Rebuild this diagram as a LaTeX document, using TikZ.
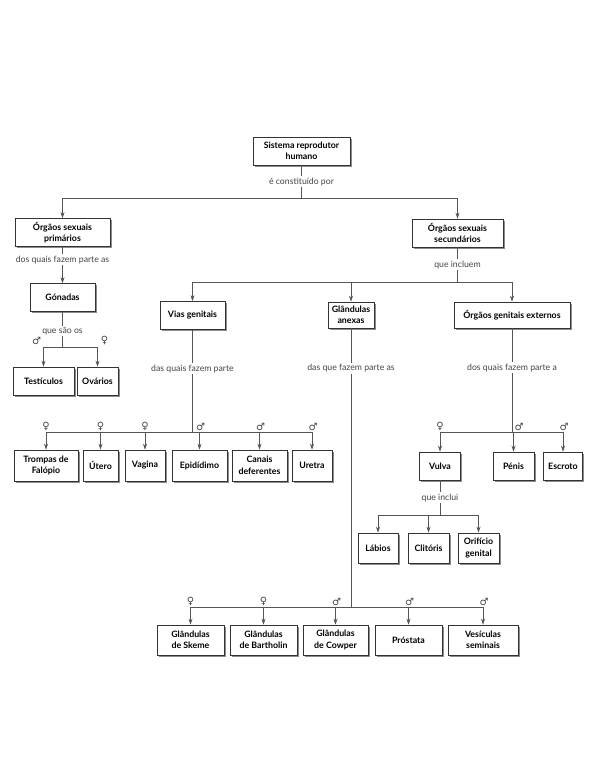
\documentclass[tikz,border=0pt]{standalone}
\usepackage{fontspec}
\setmainfont{Lato}
\newfontfamily\symfont{DejaVu Sans}
\usetikzlibrary{arrows.meta,shadows}
\definecolor{linegray}{HTML}{555555}
\definecolor{txtgray}{HTML}{444444}

\begin{document}
\begin{tikzpicture}[x=1pt, y=-1pt,
  box/.style={draw=black!80, line width=0.6pt, fill=white, align=center, inner sep=1pt,
    font=\fontsize{8.8}{11.5}\selectfont\bfseries, minimum height=28pt,
    drop shadow={shadow xshift=1.8pt, shadow yshift=-1.8pt, fill=black!45, opacity=1}},
  link/.style={draw=linegray, line width=0.6pt},
  arr/.style={link, -{Stealth[length=6pt,width=4pt]}},
  lbl/.style={fill=white, text=txtgray, inner sep=1.5pt, font=\fontsize{8.7}{9}\selectfont},
  sym/.style={text=txtgray, anchor=south, inner sep=0.3pt, font=\symfont\fontsize{10}{10}\selectfont}]
\useasboundingbox (0,0) rectangle (600,776);

\node[box, minimum width=97pt] (sist) at (301.5,151) {Sistema reprodutor\\humano};
\node[box, minimum width=95pt] (prim) at (62.5,232.5) {Órgãos sexuais\\primários};
\node[box, minimum width=91pt] (sec) at (457.5,233) {Órgãos sexuais\\secundários};
\node[box, minimum width=65pt] (gon) at (62.5,297.5) {Gónadas};
\node[box, minimum width=61pt] (test) at (43.5,381) {Testículos};
\node[box, minimum width=41pt] (ovar) at (97.5,381) {Ovários};
\node[box, minimum width=65pt] (vias) at (192.5,315.5) {Vias genitais};
\node[box, minimum width=46pt, minimum height=26pt] (glan) at (351,315) {Glândulas\\anexas};
\node[box, minimum width=116pt, minimum height=26pt] (ext) at (512,315) {Órgãos genitais externos};

\node[box, minimum width=64pt, minimum height=31pt] (trompas) at (46,465.5) {Trompas de\\Falópio};
\node[box, minimum width=35pt, minimum height=31pt] (utero) at (100.5,465.5) {Útero};
\node[box, minimum width=40pt, minimum height=31pt] (vagina) at (145,465.5) {Vagina};
\node[box, minimum width=55pt, minimum height=31pt] (epid) at (199.5,465.5) {Epidídimo};
\node[box, minimum width=55pt, minimum height=31pt] (canais) at (259.5,465.5) {Canais\\deferentes};
\node[box, minimum width=40pt, minimum height=31pt] (uretra) at (312,465.5) {Uretra};

\node[box, minimum width=41pt] (vulva) at (440,466) {Vulva};
\node[box, minimum width=41pt] (penis) at (513.5,466) {Pénis};
\node[box, minimum width=39pt] (escroto) at (563,466) {Escroto};

\node[box, minimum width=40pt, minimum height=30pt] (labios) at (378,548) {Lábios};
\node[box, minimum width=41pt, minimum height=30pt] (clit) at (428.5,548) {Clitóris};
\node[box, minimum width=41pt, minimum height=30pt] (orif) at (478.5,548) {Orifício\\genital};

\node[box, minimum width=67pt, minimum height=30pt] (skeme) at (190.5,640) {Glândulas\\de Skeme};
\node[box, minimum width=67pt, minimum height=30pt] (barth) at (263.5,640) {Glândulas\\de Bartholin};
\node[box, minimum width=65pt, minimum height=30pt] (cowper) at (335.5,640) {Glândulas\\de Cowper};
\node[box, minimum width=67pt, minimum height=30pt] (prost) at (408.5,640) {Próstata};
\node[box, minimum width=70pt, minimum height=30pt] (vesic) at (483,640) {Vesículas\\seminais};

\coordinate (j1) at (301.5,198);
\coordinate (j2) at (457.5,282);
\coordinate (jg) at (62.5,347);
\coordinate (j3) at (192.5,432);
\coordinate (j4) at (512,432);
\coordinate (j5) at (351,607);
\coordinate (j6) at (440,515);

\draw[link] (sist) -- node[lbl] {é constituído por} (j1);
\draw[arr] (j1) -| (prim);
\draw[arr] (j1) -| (sec);

\draw[arr] (prim) -- node[lbl, pos=0.35] {dos quais fazem parte as} (gon);
\draw[link] (gon) -- node[lbl, pos=0.55] {que são os} (jg);
\draw[arr] (jg) -| (test);
\draw[arr] (jg) -| (ovar);
\node[sym] (mtest) at (36.5,345) {♂};
\node[sym] (fovar) at (104.5,345) {♀};

\draw[link] (sec) -- node[lbl] {que incluem} (j2);
\draw[arr] (j2) -| (vias);
\draw[arr] (j2) -| (glan);
\draw[arr] (j2) -| (ext);

\draw[link] (vias) -- node[lbl, pos=0.38] {das quais fazem parte} (j3);
\draw[arr] (j3) -| (trompas);
\draw[arr] (j3) -| (utero);
\draw[arr] (j3) -| (vagina);
\draw[arr] (j3) -| (epid);
\draw[arr] (j3) -| (canais);
\draw[arr] (j3) -| (uretra);
\node[sym] (ftrompas) at (46,431) {♀};
\node[sym] (futero) at (100.5,431) {♀};
\node[sym] (fvagina) at (145,431) {♀};
\node[sym] (mepid) at (200.5,431) {♂};
\node[sym] (mcanais) at (260.5,431) {♂};
\node[sym] (muretra) at (313,431) {♂};

\draw[link] (ext) -- node[lbl, pos=0.38] {dos quais fazem parte a} (j4);
\draw[arr] (j4) -| (vulva);
\draw[arr] (j4) -| (penis);
\draw[arr] (j4) -| (escroto);
\node[sym] (fvulva) at (440,431) {♀};
\node[sym] (mpenis) at (519,431) {♂};
\node[sym] (mescroto) at (564,431) {♂};

\draw[link] (vulva) -- node[lbl] {que inclui} (j6);
\draw[arr] (j6) -| (labios);
\draw[arr] (j6) -| (clit);
\draw[arr] (j6) -| (orif);

\draw[link] (glan) -- node[lbl, pos=0.143] {das que fazem parte as} (j5);
\draw[arr] (j5) -| (skeme);
\draw[arr] (j5) -| (barth);
\draw[arr] (j5) -| (cowper);
\draw[arr] (j5) -| (prost);
\draw[arr] (j5) -| (vesic);
\node[sym] (fskeme) at (190.5,606) {♀};
\node[sym] (fbarth) at (263.5,606) {♀};
\node[sym] (mcowper) at (336.5,606) {♂};
\node[sym] (mprost) at (409.5,606) {♂};
\node[sym] (mvesic) at (484,606) {♂};
\end{tikzpicture}
\end{document}
